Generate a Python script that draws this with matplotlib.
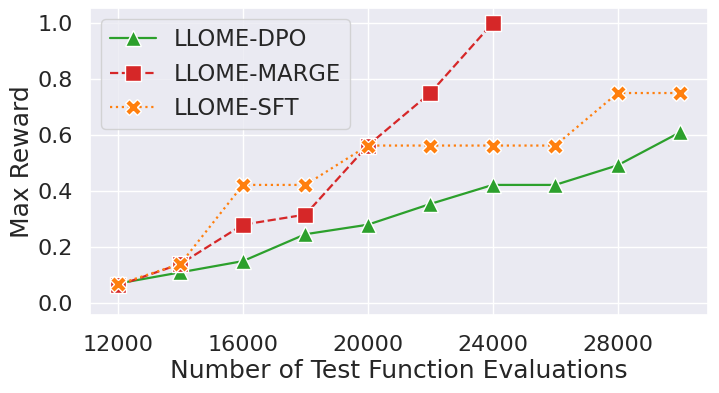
import matplotlib
matplotlib.use("Agg")
import matplotlib.pyplot as plt
import seaborn as sns

sns.set_theme(style="darkgrid", font_scale=1.5)
plt.rcParams['font.family'] = ['DejaVu Sans']

evals = [12000, 14000, 16000, 18000, 20000, 22000, 24000, 26000, 28000, 30000]
dpo = [0.07, 0.11, 0.15, 0.246, 0.28, 0.354, 0.422, 0.422, 0.492, 0.61]
marge_x = [12000, 14000, 16000, 18000, 20000, 22000, 24000]
marge = [0.063, 0.14, 0.28, 0.316, 0.5625, 0.75, 1.0]
sft = [0.067, 0.14, 0.422, 0.422, 0.5625, 0.5625, 0.5625, 0.5625, 0.75, 0.75]
xticks = [12000, 16000, 20000, 24000, 28000]

fig, ax = plt.subplots(figsize=(7.19, 3.93), dpi=100)
ax.plot(evals, dpo, color='#2ca02c', linestyle='-', marker='^', markersize=11,
        markeredgecolor='white', markeredgewidth=1, label='LLOME-DPO', lw=1.6)
ax.plot(marge_x, marge, color='#d62728', linestyle='--', marker='s', markersize=11,
        markeredgecolor='white', markeredgewidth=1, label='LLOME-MARGE', lw=1.6)
ax.plot(evals, sft, color='#ff7f0e', linestyle=':', marker='X', markersize=11,
        markeredgecolor='white', markeredgewidth=1, label='LLOME-SFT', lw=1.6)

ax.set_xticks(xticks)
ax.set_yticks([0.0, 0.2, 0.4, 0.6, 0.8, 1.0])
ax.set_ylim(-0.043, 1.054)
ax.set_xlabel('Number of Test Function Evaluations', fontsize=18, labelpad=3)
ax.set_ylabel('Max Reward', fontsize=18, labelpad=3)
ax.tick_params(axis='x', labelsize=16, pad=8)
ax.tick_params(axis='y', labelsize=16, pad=6)
ax.legend(fontsize=16.3, loc='upper left')
fig.subplots_adjust(left=0.125, right=0.985, top=0.98, bottom=0.198)
fig.savefig('out.png', dpi=100)
